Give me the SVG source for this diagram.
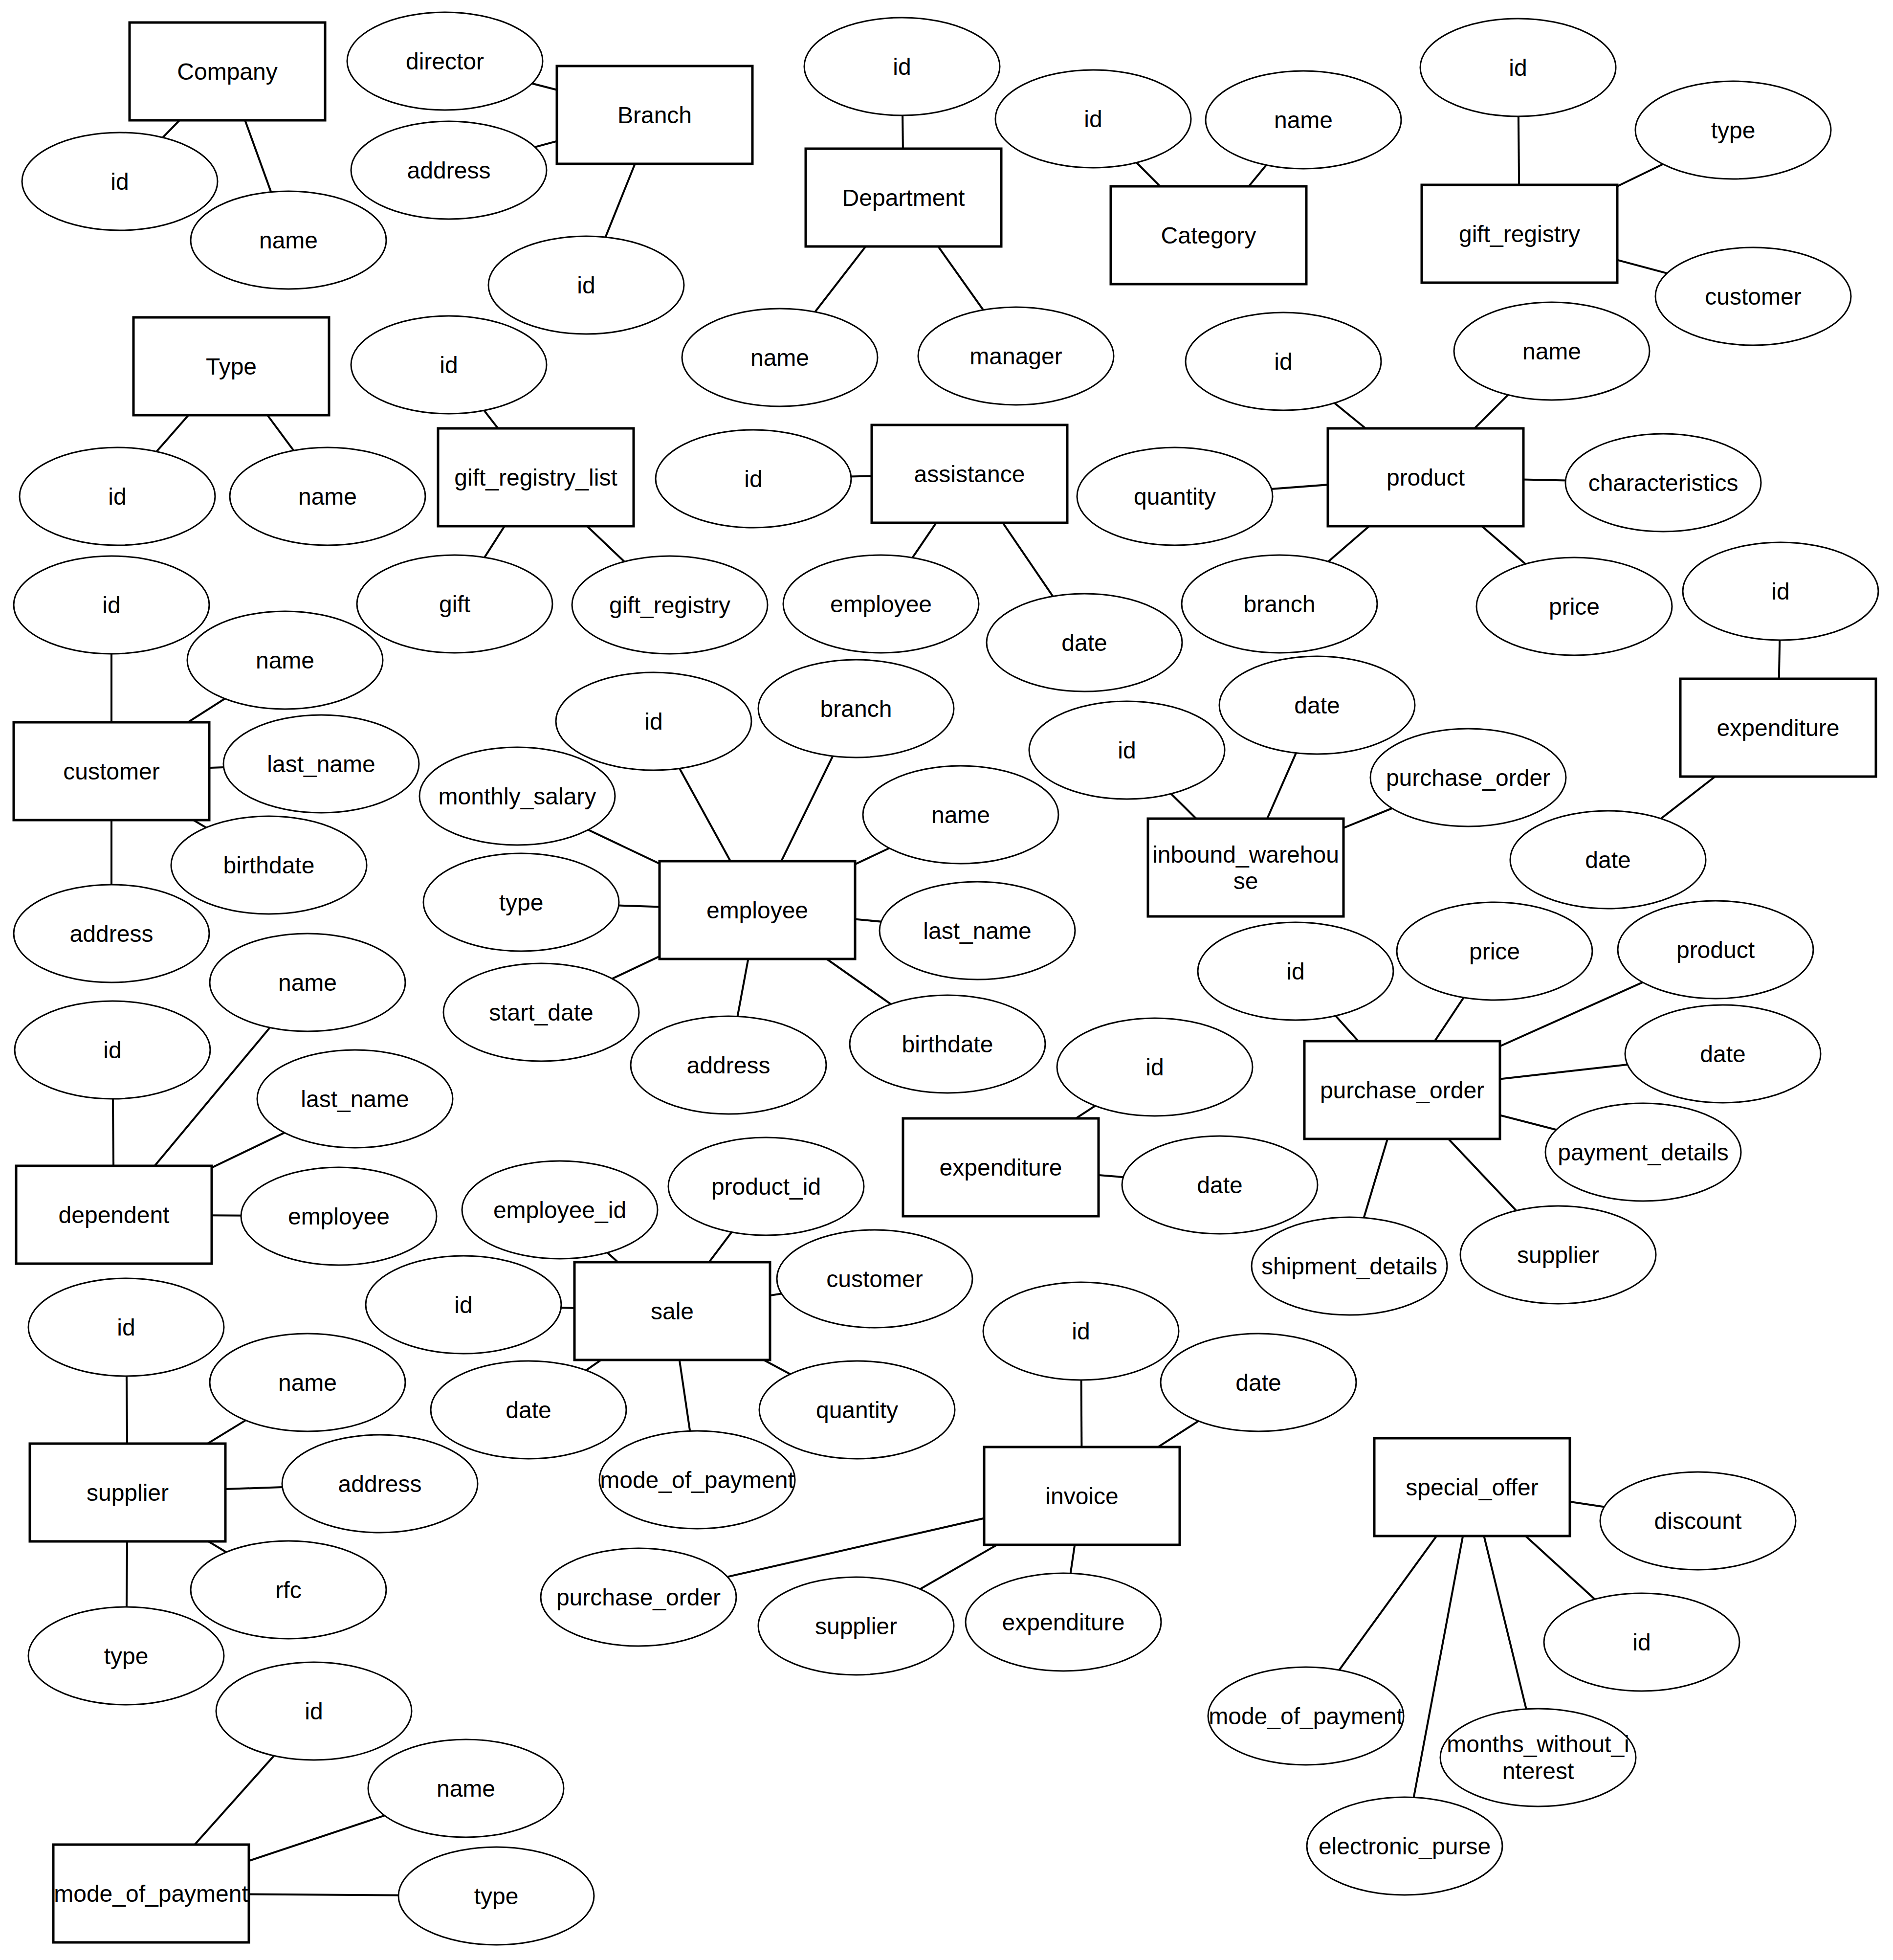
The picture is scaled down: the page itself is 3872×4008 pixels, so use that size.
<svg xmlns="http://www.w3.org/2000/svg" width="3872" height="4008" viewBox="0 0 3872 4008">
<style>
.r{fill:#fff;stroke:#000;stroke-width:5}
.e{fill:#fff;stroke:#000;stroke-width:3}
.c line{stroke:#000;stroke-width:4}
text{font-family:"Liberation Sans",Arial,sans-serif;font-size:48px;text-anchor:middle;dominant-baseline:central;fill:#000}
</style>
<rect width="3872" height="4008" fill="#fff"/>
<g id="connectors" class="c">
<line x1="465" y1="146" x2="245" y2="371"/><line x1="465" y1="146" x2="590" y2="491"/>
<line x1="1339" y1="235" x2="910" y2="125"/><line x1="1339" y1="235" x2="918" y2="348"/><line x1="1339" y1="235" x2="1199" y2="583"/>
<line x1="1848" y1="404" x2="1845" y2="136"/><line x1="1848" y1="404" x2="1595" y2="731"/><line x1="1848" y1="404" x2="2078" y2="728"/>
<line x1="2472" y1="481" x2="2236" y2="243"/><line x1="2472" y1="481" x2="2666" y2="245"/>
<line x1="3108" y1="478" x2="3105" y2="138"/><line x1="3108" y1="478" x2="3545" y2="266"/><line x1="3108" y1="478" x2="3586" y2="606"/>
<line x1="473" y1="749" x2="240" y2="1015"/><line x1="473" y1="749" x2="670" y2="1015"/>
<line x1="1096" y1="976" x2="918" y2="746"/><line x1="1096" y1="976" x2="930" y2="1235"/><line x1="1096" y1="976" x2="1370" y2="1237"/>
<line x1="1983" y1="969" x2="1541" y2="979"/><line x1="1983" y1="969" x2="1802" y2="1235"/><line x1="1983" y1="969" x2="2218" y2="1314"/>
<line x1="2916" y1="976" x2="2625" y2="739"/><line x1="2916" y1="976" x2="3174" y2="718"/><line x1="2916" y1="976" x2="2403" y2="1015"/><line x1="2916" y1="976" x2="3402" y2="987"/><line x1="2916" y1="976" x2="2617" y2="1235"/><line x1="2916" y1="976" x2="3220" y2="1240"/>
<line x1="3637" y1="1488" x2="3642" y2="1209"/><line x1="3637" y1="1488" x2="3289" y2="1758"/>
<line x1="228" y1="1577" x2="228" y2="1237"/><line x1="228" y1="1577" x2="583" y2="1350"/><line x1="228" y1="1577" x2="657" y2="1562"/><line x1="228" y1="1577" x2="550" y2="1769"/><line x1="228" y1="1577" x2="228" y2="1909"/>
<line x1="1549" y1="1861" x2="1337" y2="1475"/><line x1="1549" y1="1861" x2="1751" y2="1449"/><line x1="1549" y1="1861" x2="1058" y2="1628"/><line x1="1549" y1="1861" x2="1965" y2="1666"/><line x1="1549" y1="1861" x2="1066" y2="1845"/><line x1="1549" y1="1861" x2="1999" y2="1903"/><line x1="1549" y1="1861" x2="1107" y2="2070"/><line x1="1549" y1="1861" x2="1490" y2="2178"/><line x1="1549" y1="1861" x2="1938" y2="2135"/>
<line x1="2548" y1="1774" x2="2305" y2="1534"/><line x1="2548" y1="1774" x2="2694" y2="1442"/><line x1="2548" y1="1774" x2="3003" y2="1590"/>
<line x1="2868" y1="2229" x2="2650" y2="1986"/><line x1="2868" y1="2229" x2="3057" y2="1945"/><line x1="2868" y1="2229" x2="3509" y2="1942"/><line x1="2868" y1="2229" x2="3524" y2="2155"/><line x1="2868" y1="2229" x2="3361" y2="2356"/><line x1="2868" y1="2229" x2="2760" y2="2589"/><line x1="2868" y1="2229" x2="3187" y2="2566"/>
<line x1="2047" y1="2387" x2="2362" y2="2182"/><line x1="2047" y1="2387" x2="2495" y2="2423"/>
<line x1="233" y1="2484" x2="230" y2="2147"/><line x1="233" y1="2484" x2="629" y2="2009"/><line x1="233" y1="2484" x2="726" y2="2247"/><line x1="233" y1="2484" x2="693" y2="2487"/>
<line x1="1375" y1="2681" x2="1145" y2="2474"/><line x1="1375" y1="2681" x2="1567" y2="2426"/><line x1="1375" y1="2681" x2="1789" y2="2615"/><line x1="1375" y1="2681" x2="948" y2="2668"/><line x1="1375" y1="2681" x2="1081" y2="2883"/><line x1="1375" y1="2681" x2="1426" y2="3026"/><line x1="1375" y1="2681" x2="1753" y2="2883"/>
<line x1="261" y1="3052" x2="258" y2="2714"/><line x1="261" y1="3052" x2="629" y2="2827"/><line x1="261" y1="3052" x2="777" y2="3034"/><line x1="261" y1="3052" x2="590" y2="3251"/><line x1="261" y1="3052" x2="258" y2="3386"/>
<line x1="2213" y1="3059" x2="2211" y2="2722"/><line x1="2213" y1="3059" x2="2574" y2="2827"/><line x1="2213" y1="3059" x2="1306" y2="3266"/><line x1="2213" y1="3059" x2="1751" y2="3325"/><line x1="2213" y1="3059" x2="2175" y2="3317"/>
<line x1="3011" y1="3041" x2="3473" y2="3110"/><line x1="3011" y1="3041" x2="3358" y2="3358"/><line x1="3011" y1="3041" x2="2671" y2="3509"/><line x1="3011" y1="3041" x2="3146" y2="3594"/><line x1="3011" y1="3041" x2="2873" y2="3775"/>
<line x1="309" y1="3872" x2="642" y2="3499"/><line x1="309" y1="3872" x2="953" y2="3657"/><line x1="309" y1="3872" x2="1015" y2="3877"/>
</g>
<g id="company"><rect class="r" x="265" y="46" width="400" height="200"/><text x="465" y="146">Company</text></g>
<g id="company-id"><ellipse class="e" cx="245" cy="371" rx="200" ry="100"/><text x="245" y="371">id</text></g>
<g id="company-name"><ellipse class="e" cx="590" cy="491" rx="200" ry="100"/><text x="590" y="491">name</text></g>
<g id="branch"><rect class="r" x="1139" y="135" width="400" height="200"/><text x="1339" y="235">Branch</text></g>
<g id="branch-director"><ellipse class="e" cx="910" cy="125" rx="200" ry="100"/><text x="910" y="125">director</text></g>
<g id="branch-address"><ellipse class="e" cx="918" cy="348" rx="200" ry="100"/><text x="918" y="348">address</text></g>
<g id="branch-id"><ellipse class="e" cx="1199" cy="583" rx="200" ry="100"/><text x="1199" y="583">id</text></g>
<g id="department"><rect class="r" x="1648" y="304" width="400" height="200"/><text x="1848" y="404">Department</text></g>
<g id="department-id"><ellipse class="e" cx="1845" cy="136" rx="200" ry="100"/><text x="1845" y="136">id</text></g>
<g id="department-name"><ellipse class="e" cx="1595" cy="731" rx="200" ry="100"/><text x="1595" y="731">name</text></g>
<g id="department-manager"><ellipse class="e" cx="2078" cy="728" rx="200" ry="100"/><text x="2078" y="728">manager</text></g>
<g id="category"><rect class="r" x="2272" y="381" width="400" height="200"/><text x="2472" y="481">Category</text></g>
<g id="category-id"><ellipse class="e" cx="2236" cy="243" rx="200" ry="100"/><text x="2236" y="243">id</text></g>
<g id="category-name"><ellipse class="e" cx="2666" cy="245" rx="200" ry="100"/><text x="2666" y="245">name</text></g>
<g id="gift_registry"><rect class="r" x="2908" y="378" width="400" height="200"/><text x="3108" y="478">gift_registry</text></g>
<g id="gift_registry-id"><ellipse class="e" cx="3105" cy="138" rx="200" ry="100"/><text x="3105" y="138">id</text></g>
<g id="gift_registry-type"><ellipse class="e" cx="3545" cy="266" rx="200" ry="100"/><text x="3545" y="266">type</text></g>
<g id="gift_registry-customer"><ellipse class="e" cx="3586" cy="606" rx="200" ry="100"/><text x="3586" y="606">customer</text></g>
<g id="type"><rect class="r" x="273" y="649" width="400" height="200"/><text x="473" y="749">Type</text></g>
<g id="type-id"><ellipse class="e" cx="240" cy="1015" rx="200" ry="100"/><text x="240" y="1015">id</text></g>
<g id="type-name"><ellipse class="e" cx="670" cy="1015" rx="200" ry="100"/><text x="670" y="1015">name</text></g>
<g id="gift_registry_list"><rect class="r" x="896" y="876" width="400" height="200"/><text x="1096" y="976">gift_registry_list</text></g>
<g id="grl-id"><ellipse class="e" cx="918" cy="746" rx="200" ry="100"/><text x="918" y="746">id</text></g>
<g id="grl-gift"><ellipse class="e" cx="930" cy="1235" rx="200" ry="100"/><text x="930" y="1235">gift</text></g>
<g id="grl-gift_registry"><ellipse class="e" cx="1370" cy="1237" rx="200" ry="100"/><text x="1370" y="1237">gift_registry</text></g>
<g id="assistance"><rect class="r" x="1783" y="869" width="400" height="200"/><text x="1983" y="969">assistance</text></g>
<g id="assistance-id"><ellipse class="e" cx="1541" cy="979" rx="200" ry="100"/><text x="1541" y="979">id</text></g>
<g id="assistance-employee"><ellipse class="e" cx="1802" cy="1235" rx="200" ry="100"/><text x="1802" y="1235">employee</text></g>
<g id="assistance-date"><ellipse class="e" cx="2218" cy="1314" rx="200" ry="100"/><text x="2218" y="1314">date</text></g>
<g id="product"><rect class="r" x="2716" y="876" width="400" height="200"/><text x="2916" y="976">product</text></g>
<g id="product-id"><ellipse class="e" cx="2625" cy="739" rx="200" ry="100"/><text x="2625" y="739">id</text></g>
<g id="product-name"><ellipse class="e" cx="3174" cy="718" rx="200" ry="100"/><text x="3174" y="718">name</text></g>
<g id="product-quantity"><ellipse class="e" cx="2403" cy="1015" rx="200" ry="100"/><text x="2403" y="1015">quantity</text></g>
<g id="product-characteristics"><ellipse class="e" cx="3402" cy="987" rx="200" ry="100"/><text x="3402" y="987">characteristics</text></g>
<g id="product-branch"><ellipse class="e" cx="2617" cy="1235" rx="200" ry="100"/><text x="2617" y="1235">branch</text></g>
<g id="product-price"><ellipse class="e" cx="3220" cy="1240" rx="200" ry="100"/><text x="3220" y="1240">price</text></g>
<g id="expenditure-right"><rect class="r" x="3437" y="1388" width="400" height="200"/><text x="3637" y="1488">expenditure</text></g>
<g id="expR-id"><ellipse class="e" cx="3642" cy="1209" rx="200" ry="100"/><text x="3642" y="1209">id</text></g>
<g id="expR-date"><ellipse class="e" cx="3289" cy="1758" rx="200" ry="100"/><text x="3289" y="1758">date</text></g>
<g id="customer"><rect class="r" x="28" y="1477" width="400" height="200"/><text x="228" y="1577">customer</text></g>
<g id="customer-id"><ellipse class="e" cx="228" cy="1237" rx="200" ry="100"/><text x="228" y="1237">id</text></g>
<g id="customer-name"><ellipse class="e" cx="583" cy="1350" rx="200" ry="100"/><text x="583" y="1350">name</text></g>
<g id="customer-last_name"><ellipse class="e" cx="657" cy="1562" rx="200" ry="100"/><text x="657" y="1562">last_name</text></g>
<g id="customer-birthdate"><ellipse class="e" cx="550" cy="1769" rx="200" ry="100"/><text x="550" y="1769">birthdate</text></g>
<g id="customer-address"><ellipse class="e" cx="228" cy="1909" rx="200" ry="100"/><text x="228" y="1909">address</text></g>
<g id="employee"><rect class="r" x="1349" y="1761" width="400" height="200"/><text x="1549" y="1861">employee</text></g>
<g id="employee-id"><ellipse class="e" cx="1337" cy="1475" rx="200" ry="100"/><text x="1337" y="1475">id</text></g>
<g id="employee-branch"><ellipse class="e" cx="1751" cy="1449" rx="200" ry="100"/><text x="1751" y="1449">branch</text></g>
<g id="employee-monthly_salary"><ellipse class="e" cx="1058" cy="1628" rx="200" ry="100"/><text x="1058" y="1628">monthly_salary</text></g>
<g id="employee-name"><ellipse class="e" cx="1965" cy="1666" rx="200" ry="100"/><text x="1965" y="1666">name</text></g>
<g id="employee-type"><ellipse class="e" cx="1066" cy="1845" rx="200" ry="100"/><text x="1066" y="1845">type</text></g>
<g id="employee-last_name"><ellipse class="e" cx="1999" cy="1903" rx="200" ry="100"/><text x="1999" y="1903">last_name</text></g>
<g id="employee-start_date"><ellipse class="e" cx="1107" cy="2070" rx="200" ry="100"/><text x="1107" y="2070">start_date</text></g>
<g id="employee-address"><ellipse class="e" cx="1490" cy="2178" rx="200" ry="100"/><text x="1490" y="2178">address</text></g>
<g id="employee-birthdate"><ellipse class="e" cx="1938" cy="2135" rx="200" ry="100"/><text x="1938" y="2135">birthdate</text></g>
<g id="inbound_warehouse"><rect class="r" x="2348" y="1674" width="400" height="200"/><text x="2548" y="1747">inbound_warehou</text><text x="2548" y="1801">se</text></g>
<g id="iw-id"><ellipse class="e" cx="2305" cy="1534" rx="200" ry="100"/><text x="2305" y="1534">id</text></g>
<g id="iw-date"><ellipse class="e" cx="2694" cy="1442" rx="200" ry="100"/><text x="2694" y="1442">date</text></g>
<g id="iw-purchase_order"><ellipse class="e" cx="3003" cy="1590" rx="200" ry="100"/><text x="3003" y="1590">purchase_order</text></g>
<g id="purchase_order"><rect class="r" x="2668" y="2129" width="400" height="200"/><text x="2868" y="2229">purchase_order</text></g>
<g id="po-id"><ellipse class="e" cx="2650" cy="1986" rx="200" ry="100"/><text x="2650" y="1986">id</text></g>
<g id="po-price"><ellipse class="e" cx="3057" cy="1945" rx="200" ry="100"/><text x="3057" y="1945">price</text></g>
<g id="po-product"><ellipse class="e" cx="3509" cy="1942" rx="200" ry="100"/><text x="3509" y="1942">product</text></g>
<g id="po-date"><ellipse class="e" cx="3524" cy="2155" rx="200" ry="100"/><text x="3524" y="2155">date</text></g>
<g id="po-payment_details"><ellipse class="e" cx="3361" cy="2356" rx="200" ry="100"/><text x="3361" y="2356">payment_details</text></g>
<g id="po-shipment_details"><ellipse class="e" cx="2760" cy="2589" rx="200" ry="100"/><text x="2760" y="2589">shipment_details</text></g>
<g id="po-supplier"><ellipse class="e" cx="3187" cy="2566" rx="200" ry="100"/><text x="3187" y="2566">supplier</text></g>
<g id="expenditure-mid"><rect class="r" x="1847" y="2287" width="400" height="200"/><text x="2047" y="2387">expenditure</text></g>
<g id="expM-id"><ellipse class="e" cx="2362" cy="2182" rx="200" ry="100"/><text x="2362" y="2182">id</text></g>
<g id="expM-date"><ellipse class="e" cx="2495" cy="2423" rx="200" ry="100"/><text x="2495" y="2423">date</text></g>
<g id="dependent"><rect class="r" x="33" y="2384" width="400" height="200"/><text x="233" y="2484">dependent</text></g>
<g id="dependent-id"><ellipse class="e" cx="230" cy="2147" rx="200" ry="100"/><text x="230" y="2147">id</text></g>
<g id="dependent-name"><ellipse class="e" cx="629" cy="2009" rx="200" ry="100"/><text x="629" y="2009">name</text></g>
<g id="dependent-last_name"><ellipse class="e" cx="726" cy="2247" rx="200" ry="100"/><text x="726" y="2247">last_name</text></g>
<g id="dependent-employee"><ellipse class="e" cx="693" cy="2487" rx="200" ry="100"/><text x="693" y="2487">employee</text></g>
<g id="sale"><rect class="r" x="1175" y="2581" width="400" height="200"/><text x="1375" y="2681">sale</text></g>
<g id="sale-employee_id"><ellipse class="e" cx="1145" cy="2474" rx="200" ry="100"/><text x="1145" y="2474">employee_id</text></g>
<g id="sale-product_id"><ellipse class="e" cx="1567" cy="2426" rx="200" ry="100"/><text x="1567" y="2426">product_id</text></g>
<g id="sale-customer"><ellipse class="e" cx="1789" cy="2615" rx="200" ry="100"/><text x="1789" y="2615">customer</text></g>
<g id="sale-id"><ellipse class="e" cx="948" cy="2668" rx="200" ry="100"/><text x="948" y="2668">id</text></g>
<g id="sale-date"><ellipse class="e" cx="1081" cy="2883" rx="200" ry="100"/><text x="1081" y="2883">date</text></g>
<g id="sale-mode_of_payment"><ellipse class="e" cx="1426" cy="3026" rx="200" ry="100"/><text x="1426" y="3026">mode_of_payment</text></g>
<g id="sale-quantity"><ellipse class="e" cx="1753" cy="2883" rx="200" ry="100"/><text x="1753" y="2883">quantity</text></g>
<g id="supplier"><rect class="r" x="61" y="2952" width="400" height="200"/><text x="261" y="3052">supplier</text></g>
<g id="supplier-id"><ellipse class="e" cx="258" cy="2714" rx="200" ry="100"/><text x="258" y="2714">id</text></g>
<g id="supplier-name"><ellipse class="e" cx="629" cy="2827" rx="200" ry="100"/><text x="629" y="2827">name</text></g>
<g id="supplier-address"><ellipse class="e" cx="777" cy="3034" rx="200" ry="100"/><text x="777" y="3034">address</text></g>
<g id="supplier-rfc"><ellipse class="e" cx="590" cy="3251" rx="200" ry="100"/><text x="590" y="3251">rfc</text></g>
<g id="supplier-type"><ellipse class="e" cx="258" cy="3386" rx="200" ry="100"/><text x="258" y="3386">type</text></g>
<g id="invoice"><rect class="r" x="2013" y="2959" width="400" height="200"/><text x="2213" y="3059">invoice</text></g>
<g id="invoice-id"><ellipse class="e" cx="2211" cy="2722" rx="200" ry="100"/><text x="2211" y="2722">id</text></g>
<g id="invoice-date"><ellipse class="e" cx="2574" cy="2827" rx="200" ry="100"/><text x="2574" y="2827">date</text></g>
<g id="invoice-purchase_order"><ellipse class="e" cx="1306" cy="3266" rx="200" ry="100"/><text x="1306" y="3266">purchase_order</text></g>
<g id="invoice-supplier"><ellipse class="e" cx="1751" cy="3325" rx="200" ry="100"/><text x="1751" y="3325">supplier</text></g>
<g id="invoice-expenditure"><ellipse class="e" cx="2175" cy="3317" rx="200" ry="100"/><text x="2175" y="3317">expenditure</text></g>
<g id="special_offer"><rect class="r" x="2811" y="2941" width="400" height="200"/><text x="3011" y="3041">special_offer</text></g>
<g id="so-discount"><ellipse class="e" cx="3473" cy="3110" rx="200" ry="100"/><text x="3473" y="3110">discount</text></g>
<g id="so-id"><ellipse class="e" cx="3358" cy="3358" rx="200" ry="100"/><text x="3358" y="3358">id</text></g>
<g id="so-mode_of_payment"><ellipse class="e" cx="2671" cy="3509" rx="200" ry="100"/><text x="2671" y="3509">mode_of_payment</text></g>
<g id="so-months_without_interest"><ellipse class="e" cx="3146" cy="3594" rx="200" ry="100"/><text x="3146" y="3566">months_without_i</text><text x="3146" y="3621">nterest</text></g>
<g id="so-electronic_purse"><ellipse class="e" cx="2873" cy="3775" rx="200" ry="100"/><text x="2873" y="3775">electronic_purse</text></g>
<g id="mode_of_payment"><rect class="r" x="109" y="3772" width="400" height="200"/><text x="309" y="3872">mode_of_payment</text></g>
<g id="mop-id"><ellipse class="e" cx="642" cy="3499" rx="200" ry="100"/><text x="642" y="3499">id</text></g>
<g id="mop-name"><ellipse class="e" cx="953" cy="3657" rx="200" ry="100"/><text x="953" y="3657">name</text></g>
<g id="mop-type"><ellipse class="e" cx="1015" cy="3877" rx="200" ry="100"/><text x="1015" y="3877">type</text></g>
</svg>
